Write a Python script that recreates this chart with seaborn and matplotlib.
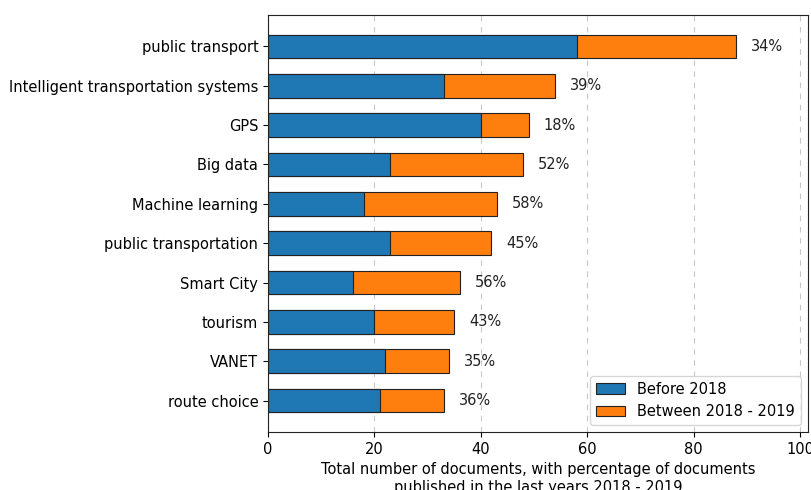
import matplotlib
matplotlib.use("Agg")
import matplotlib.pyplot as plt
from matplotlib.patches import Patch
import seaborn as sns
import pandas as pd

keywords = [
    "public transport",
    "Intelligent transportation systems",
    "GPS",
    "Big data",
    "Machine learning",
    "public transportation",
    "Smart City",
    "tourism",
    "VANET",
    "route choice",
]
before_2018 = [58, 33, 40, 23, 18, 23, 16, 20, 22, 21]
total_docs = [88, 54, 49, 48, 43, 42, 36, 35, 34, 33]

df = pd.DataFrame({"keyword": keywords, "before": before_2018, "total": total_docs})
df["recent"] = df["total"] - df["before"]
df["share"] = (100 * df["recent"] / df["total"]).round().astype(int)

blue = "#1f77b4"
orange = "#ff7f0e"
fs = 10.5

fig = plt.figure(figsize=(8.11, 4.90), dpi=100)
ax = fig.add_axes([268 / 811, 1 - 432 / 490, (808 - 268) / 811, (432 - 15) / 490])

# Stacked bars: full totals in orange, the pre-2018 part drawn over them in blue
sns.barplot(data=df, y="keyword", x="total", orient="h", color=orange, width=0.6,
            edgecolor="#222222", linewidth=0.8, saturation=1, ax=ax)
sns.barplot(data=df, y="keyword", x="before", orient="h", color=blue, width=0.6,
            edgecolor="#222222", linewidth=0.8, saturation=1, ax=ax)

for i, row in df.iterrows():
    ax.text(row["total"] + 2.8, i, f"{row['share']}%", va="center", ha="left",
            fontsize=fs, color="#222222")

ax.set_xlim(0, 101.5)
ax.set_ylim(9.8, -0.8)
ax.set_xticks([0, 20, 40, 60, 80, 100])
ax.set_ylabel("")
ax.set_xlabel("Total number of documents, with percentage of documents\n"
              "published in the last years 2018 - 2019", fontsize=fs)
ax.tick_params(labelsize=fs)
ax.xaxis.grid(True, linestyle=(0, (5, 5)), color="#c8c8c8", linewidth=0.8)
ax.set_axisbelow(True)
for s in ax.spines.values():
    s.set_color("#222222")
    s.set_linewidth(0.8)

handles = [Patch(facecolor=blue, edgecolor="#222222", linewidth=0.8, label="Before 2018"),
           Patch(facecolor=orange, edgecolor="#222222", linewidth=0.8, label="Between 2018 - 2019")]
ax.legend(handles=handles, loc="lower right", fontsize=fs, framealpha=0.8)

fig.savefig("out.png", dpi=100)
